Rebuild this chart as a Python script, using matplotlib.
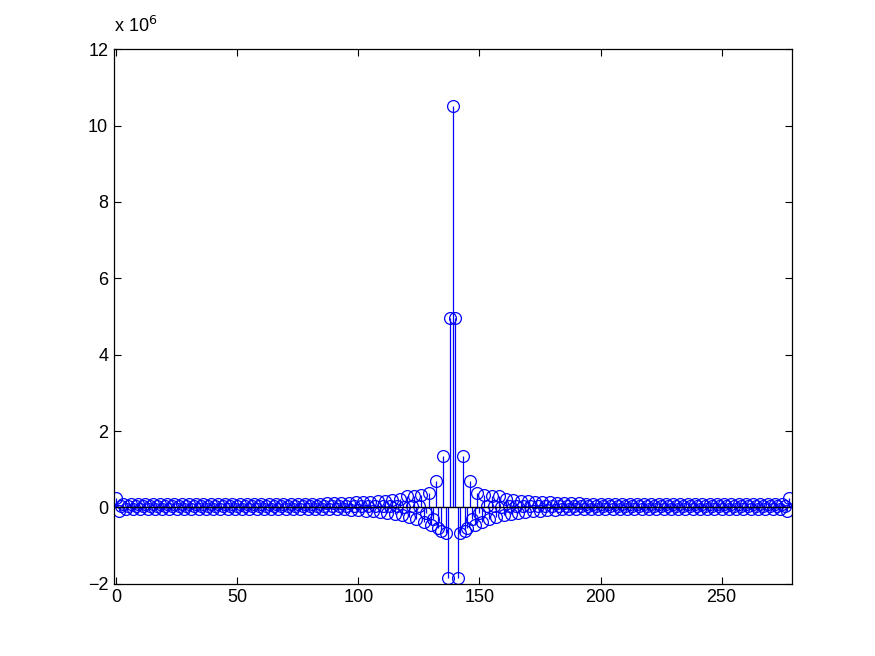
import numpy as np
import matplotlib
matplotlib.use("Agg")
import matplotlib.pyplot as plt

# right half of the symmetric sequence (lag 0 .. 139), units of 1e6
half_vals = [
    10.5, 4.95, -1.85, -0.68, 1.35, -0.62, -0.55, 0.68, -0.3, -0.45, 0.38,
    -0.15, -0.38, 0.32, 0.05, -0.3, 0.3, 0.05, -0.25, 0.3, 0.02,
    -0.2, 0.22, 0.05, -0.18, 0.2, 0.04, -0.15, 0.18, 0.03, -0.12,
    0.16, 0.04, -0.1, 0.15, 0.03, -0.08, 0.14, 0.05, -0.07, 0.13,
    0.04, -0.06, 0.12, 0.05, -0.05, 0.12, 0.04, -0.05, 0.11, 0.05,
    -0.04, 0.11, 0.04, -0.04, 0.1, 0.05, -0.04, 0.1, 0.04, -0.03,
    0.1, 0.05, -0.04, 0.09, 0.04, -0.03, 0.1, 0.05, -0.04, 0.09,
    0.04, -0.03, 0.09, 0.05, -0.04, 0.08, 0.04, -0.03, 0.09, 0.05,
    -0.04, 0.08, 0.04, -0.03, 0.08, 0.05, -0.04, 0.09, 0.04, -0.03,
    0.08, 0.05, -0.04, 0.08, 0.04, -0.03, 0.08, 0.05, -0.04, 0.08,
    0.04, -0.03, 0.08, 0.05, -0.04, 0.08, 0.04, -0.03, 0.08, 0.05,
    -0.04, 0.08, 0.04, -0.03, 0.08, 0.05, -0.04, 0.08, 0.04, -0.03,
    0.08, 0.05, -0.04, 0.08, 0.04, -0.03, 0.08, 0.05, -0.04, 0.08,
    0.04, -0.03, 0.08, 0.05, -0.04, 0.09, 0.04, -0.08, 0.25,
]
values = np.array(half_vals[::-1] + half_vals[1:]) * 1e6
x = np.arange(len(values))

x_ticks = [0, 50, 100, 150, 200, 250]
y_ticks = [-2, 0, 2, 4, 6, 8, 10, 12]

plt.rcParams['font.family'] = ['Liberation Sans', 'DejaVu Sans']
fig = plt.figure(figsize=(8.75, 6.56), dpi=100)
ax = fig.add_axes([0.13, 0.11, 0.775, 0.815])

ml, sl, bl = ax.stem(x, values / 1e6, linefmt='b-', markerfmt='bo', basefmt='k-')
ml.set_markerfacecolor('none')
ml.set_markeredgecolor('blue')
ml.set_markersize(8.5)
ml.set_markeredgewidth(0.9)
sl.set_linewidth(0.9)
bl.set_linewidth(1.0)

ax.set_xlim(-1, 279)
ax.set_ylim(-2, 12)
ax.set_xticks(x_ticks)
ax.set_yticks(y_ticks)
ax.tick_params(direction='in', length=5, width=0.8, top=True, right=True,
               labelsize=13, pad=4)
for s in ax.spines.values():
    s.set_linewidth(0.9)

fig.text(0.13, 0.945, r'x 10$^{6}$', fontsize=13, ha='left', va='bottom')

fig.savefig('out.png', dpi=100, facecolor='white')
